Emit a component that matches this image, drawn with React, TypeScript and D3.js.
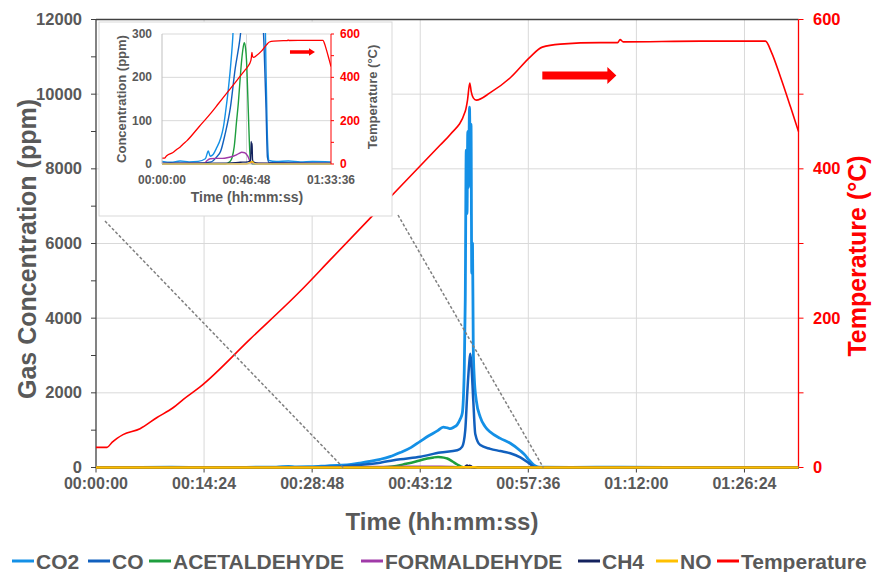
import * as d3 from 'd3';

const W = 872;
const H = 572;

// time (s) -> concentration (ppm)
const CO2: [number, number][] = [
  [0, 6], [300, 4], [600, 7], [900, 5], [1200, 6], [1440, 12], [1540, 30], [1600, 18], [1700, 22],
  [1800, 35], [1952, 60], [2040, 85], [2112, 120], [2200, 170], [2272, 220], [2350, 290], [2432, 400],
  [2520, 540], [2592, 700], [2660, 850], [2728, 980], [2776, 1080], [2810, 1060], [2832, 1040],
  [2860, 1080], [2888, 1150], [2912, 1300], [2928, 1450], [2944, 2600], [2952, 4500], [2960, 8500],
  [2966, 6800], [2972, 9000], [2978, 7500], [2986, 9650], [2992, 8000], [2998, 9200], [3004, 5200],
  [3010, 6000], [3016, 3200], [3024, 2400], [3040, 1800], [3072, 1350], [3110, 1100], [3152, 950],
  [3232, 780], [3312, 650], [3392, 450], [3430, 330], [3456, 220], [3496, 80], [3530, 20], [3552, 8],
  [3800, 6], [4200, 7], [4600, 5], [5000, 6], [5616, 5],
];
const CO: [number, number][] = [
  [0, 2], [1200, 2], [1632, 5], [1800, 15], [1952, 30], [2100, 70], [2272, 130], [2432, 220],
  [2592, 290], [2752, 400], [2888, 460], [2928, 560], [2952, 1000], [2968, 2000], [2984, 2800],
  [2992, 3050], [3000, 2800], [3016, 1800], [3032, 900], [3072, 600], [3152, 500], [3232, 440],
  [3312, 380], [3392, 270], [3456, 130], [3504, 15], [3560, 3], [5616, 2],
];
const ACETALDEHYDE: [number, number][] = [
  [0, 0], [2100, 0], [2250, 5], [2330, 15], [2400, 40], [2480, 100], [2536, 140], [2600, 200],
  [2648, 240], [2700, 270], [2736, 280], [2780, 265], [2808, 240], [2850, 160], [2888, 80],
  [2920, 25], [2950, 4], [3000, 0], [5616, 0],
];
const FORMALDEHYDE: [number, number][] = [
  [0, 1], [1400, 1], [1500, 8], [1600, 12], [1800, 13], [2000, 13], [2200, 15], [2400, 19],
  [2550, 24], [2650, 27], [2750, 26], [2850, 18], [2920, 7], [2980, 2], [3100, 1], [5616, 1],
];
const CH4: [number, number][] = [
  [0, 1], [2200, 2], [2600, 4], [2850, 5], [2940, 8], [2956, 30], [2966, 52], [2976, 25],
  [2986, 48], [2996, 40], [3008, 10], [3040, 4], [3200, 2], [5616, 1],
];
const NO: [number, number][] = [
  [0, 0], [2800, 0], [2950, 4], [3000, 6], [3050, 2], [3150, 0], [5616, 0],
];
// time (s) -> °C
const TEMPERATURE: [number, number][] = [
  [0, 27], [88, 27], [130, 34], [168, 39], [216, 44], [352, 52], [488, 67], [616, 80], [696, 91],
  [832, 108], [1232, 172], [1632, 236], [1872, 278], [2192, 334], [2432, 376], [2752, 432],
  [2832, 446], [2952, 477], [2970, 492], [2988, 515], [3000, 503], [3016, 495], [3040, 492],
  [3152, 502], [3312, 522], [3472, 550], [3568, 563], [3712, 567], [4032, 569], [4170, 569],
  [4190, 573], [4215, 570], [4832, 571], [5352, 571], [5400, 556], [5472, 523], [5552, 483],
  [5616, 450],
];

const T_MAX = 5616;
const X_TICKS = [0, 864, 1728, 2592, 3456, 4320, 5184];
const Y_TICKS = [0, 2000, 4000, 6000, 8000, 10000, 12000];
const TEMP_TICKS = [0, 200, 400, 600];
const INSET_X_TICKS = [0, 2808, 5616];
const INSET_Y_TICKS = [0, 100, 200, 300];
const ZOOM_RANGE = [1976, 3576]; // where the dashed connectors land

const SERIES = [
  { name: 'CO2', color: '#1490E6', w: 2.8, data: CO2 },
  { name: 'CO', color: '#1160BE', w: 2.5, data: CO },
  { name: 'ACETALDEHYDE', color: '#1E9E3E', w: 2.5, data: ACETALDEHYDE },
  { name: 'FORMALDEHYDE', color: '#A03AA8', w: 2.2, data: FORMALDEHYDE },
  { name: 'CH4', color: '#14225E', w: 2.5, data: CH4 },
  { name: 'NO', color: '#FFC000', w: 2.5, data: NO },
];
const TEMP_COLOR = '#FF0000';
const GRAY = '#595959';
const GRID = '#d9d9d9';

// legend layout: marker x of each entry
const LEGEND_X = [12, 88, 149, 361, 578, 656, 717];

const fmt = (s: number) => {
  const h = Math.floor(s / 3600), m = Math.floor((s % 3600) / 60), sec = s % 60;
  return [h, m, sec].map(v => String(v).padStart(2, '0')).join(':');
};

const arrow = (x0: number, x1: number, y: number, shaft: number, head: number, hl: number) =>
  `M${x0},${y - shaft / 2}L${x1 - hl},${y - shaft / 2}L${x1 - hl},${y - head / 2}L${x1},${y}` +
  `L${x1 - hl},${y + head / 2}L${x1 - hl},${y + shaft / 2}L${x0},${y + shaft / 2}Z`;

export default function App() {
  const P = { l: 96, r: 798.5, t: 19.5, b: 467.5 };
  const x = d3.scaleLinear().domain([0, T_MAX]).range([P.l, P.r]);
  const y = d3.scaleLinear().domain([0, 12000]).range([P.b, P.t]);
  const yT = d3.scaleLinear().domain([0, 600]).range([P.b, P.t]);

  const IB = { x0: 99, y0: 22, x1: 392, y1: 216 };
  const IP = { l: 162, r: 331, t: 34, b: 164 };
  const ix = d3.scaleLinear().domain([0, T_MAX]).range([IP.l, IP.r]);
  const iy = d3.scaleLinear().domain([0, 300]).range([IP.b, IP.t]);
  const iyT = d3.scaleLinear().domain([0, 600]).range([IP.b, IP.t]);

  const line = (xs: any, ys: any) =>
    d3.line<[number, number]>().x(d => xs(d[0])).y(d => ys(d[1])).curve(d3.curveMonotoneX);

  const font = "'Liberation Sans', Arial, Helvetica, sans-serif";
  const legendItems = [
    ...SERIES.map(s => ({ name: s.name, color: s.color })),
    { name: 'Temperature', color: TEMP_COLOR },
  ];

  return (
    <svg width={W} height={H} style={{ position: 'absolute', left: 0, top: 0, background: '#fff' }}
      fontFamily={font} fontWeight="bold">
      <defs>
        <clipPath id="insetClip">
          <rect x={IP.l} y={IP.t - 1} width={IP.r - IP.l} height={IP.b - IP.t + 2} />
        </clipPath>
      </defs>

      {/* grid */}
      {Y_TICKS.slice(1, -1).map(v => (
        <line key={'gy' + v} x1={P.l} x2={P.r} y1={y(v)} y2={y(v)} stroke={GRID} />
      ))}
      {X_TICKS.slice(1).map(v => (
        <line key={'gx' + v} x1={x(v)} x2={x(v)} y1={P.t} y2={P.b} stroke={GRID} />
      ))}

      {/* left axis */}
      <line x1={P.l} x2={P.l} y1={P.t} y2={P.b} stroke="#404040" strokeWidth={1.3} />
      <line x1={P.l} x2={P.r} y1={P.t} y2={P.t} stroke="#404040" strokeWidth={1.3} />
      {d3.range(0, 12001, 1000).map(v => (
        <line key={'lt' + v} x1={P.l - 5} x2={P.l} y1={y(v)} y2={y(v)} stroke="#404040" />
      ))}
      {Y_TICKS.map(v => (
        <text key={'ly' + v} x={82} y={y(v) + 5.5} textAnchor="end" fontSize={16.5} fill={GRAY}>{v}</text>
      ))}

      {/* bottom axis */}
      <line x1={P.l} x2={P.r} y1={P.b} y2={P.b} stroke="#404040" strokeWidth={1.3} />
      {X_TICKS.map(v => (
        <g key={'xt' + v}>
          <line x1={x(v)} x2={x(v)} y1={P.b} y2={P.b + 5} stroke="#404040" />
          <text x={x(v)} y={489} textAnchor="middle" fontSize={16} fill={GRAY}>{fmt(v)}</text>
        </g>
      ))}

      {/* right axis */}
      <line x1={P.r} x2={P.r} y1={P.t} y2={P.b} stroke={TEMP_COLOR} strokeWidth={1.3} />
      {d3.range(0, 601, 100).map(v => (
        <line key={'rt' + v} x1={P.r} x2={P.r + 5} y1={yT(v)} y2={yT(v)} stroke={TEMP_COLOR} />
      ))}
      {TEMP_TICKS.map(v => (
        <text key={'ry' + v} x={813} y={yT(v) + 5.5} fontSize={16.5} fill={TEMP_COLOR}>{v}</text>
      ))}

      {/* series */}
      {SERIES.map(s => (
        <path key={s.name} d={line(x, y)(s.data) ?? ''} fill="none" stroke={s.color}
          strokeWidth={s.w} strokeLinejoin="round" />
      ))}
      <path d={line(x, yT)(TEMPERATURE) ?? ''} fill="none" stroke={TEMP_COLOR} strokeWidth={1.6} />

      {/* zoom connectors */}
      <line x1={IB.x0 + 6} y1={IB.y1 + 5} x2={x(ZOOM_RANGE[0])} y2={y(0)}
        stroke="#7f7f7f" strokeWidth={1.5} strokeDasharray="3,2" />
      <line x1={IB.x1 + 6} y1={IB.y1 - 1} x2={x(ZOOM_RANGE[1])} y2={y(0)}
        stroke="#7f7f7f" strokeWidth={1.5} strokeDasharray="3,2" />

      <path d={arrow(x(3568), x(4160), yT(525), 8, 17, 9)} fill={TEMP_COLOR} />

      {/* inset */}
      <rect x={IB.x0} y={IB.y0} width={IB.x1 - IB.x0} height={IB.y1 - IB.y0} fill="#fff" stroke={GRID} />
      {INSET_Y_TICKS.slice(1).map(v => (
        <line key={'igy' + v} x1={IP.l} x2={IP.r} y1={iy(v)} y2={iy(v)} stroke={GRID} />
      ))}
      <line x1={ix(2808)} x2={ix(2808)} y1={IP.t} y2={IP.b} stroke={GRID} />
      <g clipPath="url(#insetClip)">
        {SERIES.map(s => (
          <path key={'i' + s.name} d={line(ix, iy)(s.data) ?? ''} fill="none" stroke={s.color}
            strokeWidth={1.4} strokeLinejoin="round" />
        ))}
        <path d={line(ix, iyT)(TEMPERATURE) ?? ''} fill="none" stroke={TEMP_COLOR} strokeWidth={1.3} />
      </g>
      <line x1={IP.l} x2={IP.l} y1={IP.t} y2={IP.b} stroke="#bfbfbf" />
      <line x1={IP.l} x2={IP.r} y1={IP.b} y2={IP.b} stroke="#bfbfbf" />
      <line x1={IP.r} x2={IP.r} y1={IP.t} y2={IP.b} stroke={TEMP_COLOR} />
      {d3.range(0, 601, 100).map(v => (
        <line key={'irt' + v} x1={IP.r} x2={IP.r + 3} y1={iyT(v)} y2={iyT(v)} stroke={TEMP_COLOR} />
      ))}
      {INSET_Y_TICKS.map(v => (
        <text key={'iyl' + v} x={152} y={iy(v) + 4} textAnchor="end" fontSize={12} fill={GRAY}>{v}</text>
      ))}
      {TEMP_TICKS.map(v => (
        <text key={'iyr' + v} x={340} y={iyT(v) + 4} fontSize={12} fill={TEMP_COLOR}>{v}</text>
      ))}
      {INSET_X_TICKS.map(v => (
        <text key={'ixl' + v} x={ix(v)} y={184} textAnchor="middle" fontSize={12} fill={GRAY}>{fmt(v)}</text>
      ))}
      <text x={247} y={202} textAnchor="middle" fontSize={14} fill={GRAY}>Time (hh:mm:ss)</text>
      <text transform="translate(126,99) rotate(-90)" textAnchor="middle" fontSize={13} fill={GRAY}>
        Concentration (ppm)
      </text>
      <text transform="translate(377,97) rotate(-90)" textAnchor="middle" fontSize={13} fill={GRAY}>
        Temperature (°C)
      </text>
      <path d={arrow(ix(4253), ix(5084), iyT(517), 3.5, 7.5, 6)} fill={TEMP_COLOR} />

      {/* axis titles */}
      <text x={442} y={530} textAnchor="middle" fontSize={24} fill={GRAY}>Time (hh:mm:ss)</text>
      <text transform="translate(36,249) rotate(-90)" textAnchor="middle" fontSize={25} fill={GRAY}>
        Gas Concentration (ppm)
      </text>
      <text transform="translate(866,256) rotate(-90)" textAnchor="middle" fontSize={25} fill={TEMP_COLOR}>
        Temperature (°C)
      </text>

      {/* legend */}
      {legendItems.map((it, i) => (
        <g key={'lg' + it.name}>
          <line x1={LEGEND_X[i]} x2={LEGEND_X[i] + 22} y1={561} y2={561} stroke={it.color} strokeWidth={3} />
          <text x={LEGEND_X[i] + 24} y={569} fontSize={21} fill={GRAY}>{it.name}</text>
        </g>
      ))}
    </svg>
  );
}
